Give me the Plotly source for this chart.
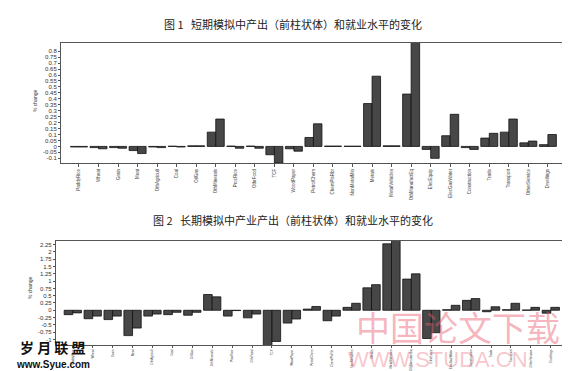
import plotly.graph_objects as go

sectors = ["PaddyRice", "Wheat", "Grain", "Meat", "OthAgricult", "Coal", "OilGas",
           "OthMinerals", "ProcRice", "OthrFood", "TCF", "WoodPaper", "PetrolChem",
           "ChemPlsRbr", "NonMetalMin", "Metals", "MetalVehicles", "OthManufactEq",
           "ElecEquip", "ElecGasWater", "Construction", "Trade", "Transport",
           "OtherService", "Dwellings"]

# Figure 1: short-run simulation (front bar = output, back bar = employment)
short_output = [-0.005, -0.01, -0.01, -0.035, -0.005, 0.002, 0.005, 0.12, 0.003, 0.003,
                -0.07, -0.02, 0.075, 0.003, 0.002, 0.36, 0.005, 0.44, -0.025, 0.09,
                -0.01, 0.07, 0.12, 0.03, 0.015]
short_employ = [-0.005, -0.02, -0.015, -0.06, -0.01, -0.005, 0.005, 0.23, -0.015, -0.015,
                -0.14, -0.04, 0.19, 0.003, 0.002, 0.59, 0.005, 0.88, -0.10, 0.27,
                -0.025, 0.11, 0.23, 0.045, 0.10]

# Figure 2: long-run simulation
long_output = [-0.15, -0.29, -0.32, -0.87, -0.2, -0.15, -0.17, 0.54, -0.2, -0.26,
               -1.25, -0.44, 0.04, -0.36, 0.1, 0.77, 2.28, 1.07, -0.97, 0.02,
               0.34, -0.05, 0.02, 0.01, -0.1]
long_employ = [-0.09, -0.2, -0.2, -0.61, -0.13, -0.07, -0.07, 0.46, -0.01, -0.13,
               -1.07, -0.3, 0.13, -0.2, 0.24, 0.88, 2.45, 1.25, -0.77, 0.17,
               0.4, 0.12, 0.24, 0.1, 0.1]

y1_ticks = [0.8, 0.75, 0.7, 0.65, 0.6, 0.55, 0.5, 0.45, 0.4, 0.35, 0.3, 0.25, 0.2,
            0.15, 0.1, 0.05, 0, -0.05, -0.1]
y1_text = ["0.8", "0.75", "0.7", "0.65", "0.6", "0.55", "0.5", "0.45", "0.4", "0.35",
           "0.3", "0.25", "0.2", "0.15", "0.1", "0.05", "0", "-0.05", "-0.1"]
y2_ticks = [2.25, 2, 1.75, 1.5, 1.25, 1, 0.75, 0.5, 0.25, 0, -0.25, -0.5, -0.75, -1]
y2_text = ["2.25", "2", "1.75", "1.5", "1.25", "1", "0.75", "0.5", "0.25", "0",
           "-0.25", "-0.5", "-0.75", "-1"]

title1 = "图 1   短期模拟中产出（前柱状体）和就业水平的变化"
title2 = "图 2   长期模拟中产业产出（前柱状体）和就业水平的变化"

bar_fill = "#474747"
bar_line = "#111111"
idx = list(range(len(sectors)))

fig = go.Figure()
for vals, ax in [(short_output, "1"), (short_employ, "1"), (long_output, "2"), (long_employ, "2")]:
    fig.add_trace(go.Bar(
        x=idx, y=vals, xaxis="x" if ax == "1" else "x2", yaxis="y" if ax == "1" else "y2",
        marker=dict(color=bar_fill, line=dict(color=bar_line, width=0.8)),
        showlegend=False, hoverinfo="y"))

tickfont = dict(family="Liberation Sans, Arial, sans-serif", size=6, color="#333333")
catfont1 = dict(family="Liberation Sans, Arial, sans-serif", size=4.5, color="#444444")
catfont2 = dict(family="Liberation Sans, Arial, sans-serif", size=3.1, color="#444444")

def xaxis_style(font, tl):
    return dict(tickmode="array", tickvals=idx, ticktext=sectors, tickangle=-90,
                tickfont=font, showline=True, linecolor="#555555", linewidth=1,
                mirror=True, ticks="outside", ticklen=tl, tickcolor="#555555",
                showgrid=False, zeroline=False)

common_y = dict(tickmode="array", tickfont=tickfont, showline=True, linecolor="#555555",
                linewidth=1, mirror=True, ticks="outside", ticklen=2, tickcolor="#555555",
                showgrid=False, zeroline=False)

fig.update_layout(
    width=570, height=371, autosize=False,
    margin=dict(l=0, r=0, t=0, b=0),
    paper_bgcolor="white", plot_bgcolor="white",
    barmode="group", bargap=0.13, bargroupgap=0.0,
    xaxis=dict(domain=[0.093, 0.977], range=[-0.92, 24.87], anchor="y", **xaxis_style(catfont1, 3)),
    yaxis=dict(domain=[0.582, 0.906], range=[-0.14, 0.87], anchor="x",
               tickvals=y1_ticks, ticktext=y1_text, **common_y),
    xaxis2=dict(domain=[0.084, 0.982], range=[-0.85, 24.85], anchor="y2", **xaxis_style(catfont2, 2)),
    yaxis2=dict(domain=[0.091, 0.373], range=[-1.2, 2.39], anchor="x2",
                tickvals=y2_ticks, ticktext=y2_text, **common_y),
    font=dict(family="Liberation Sans, Arial, sans-serif"),
)

def ann(text, x, y, font, angle=0):
    return dict(text=text, x=x / 570, y=1 - y / 371, xref="paper", yref="paper",
                showarrow=False, xanchor="center", yanchor="middle", textangle=angle,
                font=font)

annots = [
    ann(title1, 285, 16, dict(family="Noto Sans CJK SC", size=11, color="#222222")),
    ann(title2, 285, 212, dict(family="Noto Sans CJK SC", size=11, color="#222222")),
    ann("% change", 27, 93, dict(size=5, color="#333333"), -90),
    ann("% change", 22, 280, dict(size=5, color="#333333"), -90),
    ann("中国论文下载", 450, 318, dict(family="Noto Sans CJK SC", size=34, color="rgba(235,90,110,0.45)")),
    ann("WWW.STUDA.CN", 430, 351, dict(family="Liberation Sans", size=22, color="rgba(235,90,110,0.35)")),
    ann("<b>岁 月 联 盟</b>", 45, 339, dict(family="Noto Sans CJK SC", size=14, color="#111111")),
    ann("<b>www.Syue.com</b>", 45, 356, dict(family="Liberation Sans", size=10, color="#111111")),
]
fig.update_layout(annotations=annots)

fig.write_html("out.html")
